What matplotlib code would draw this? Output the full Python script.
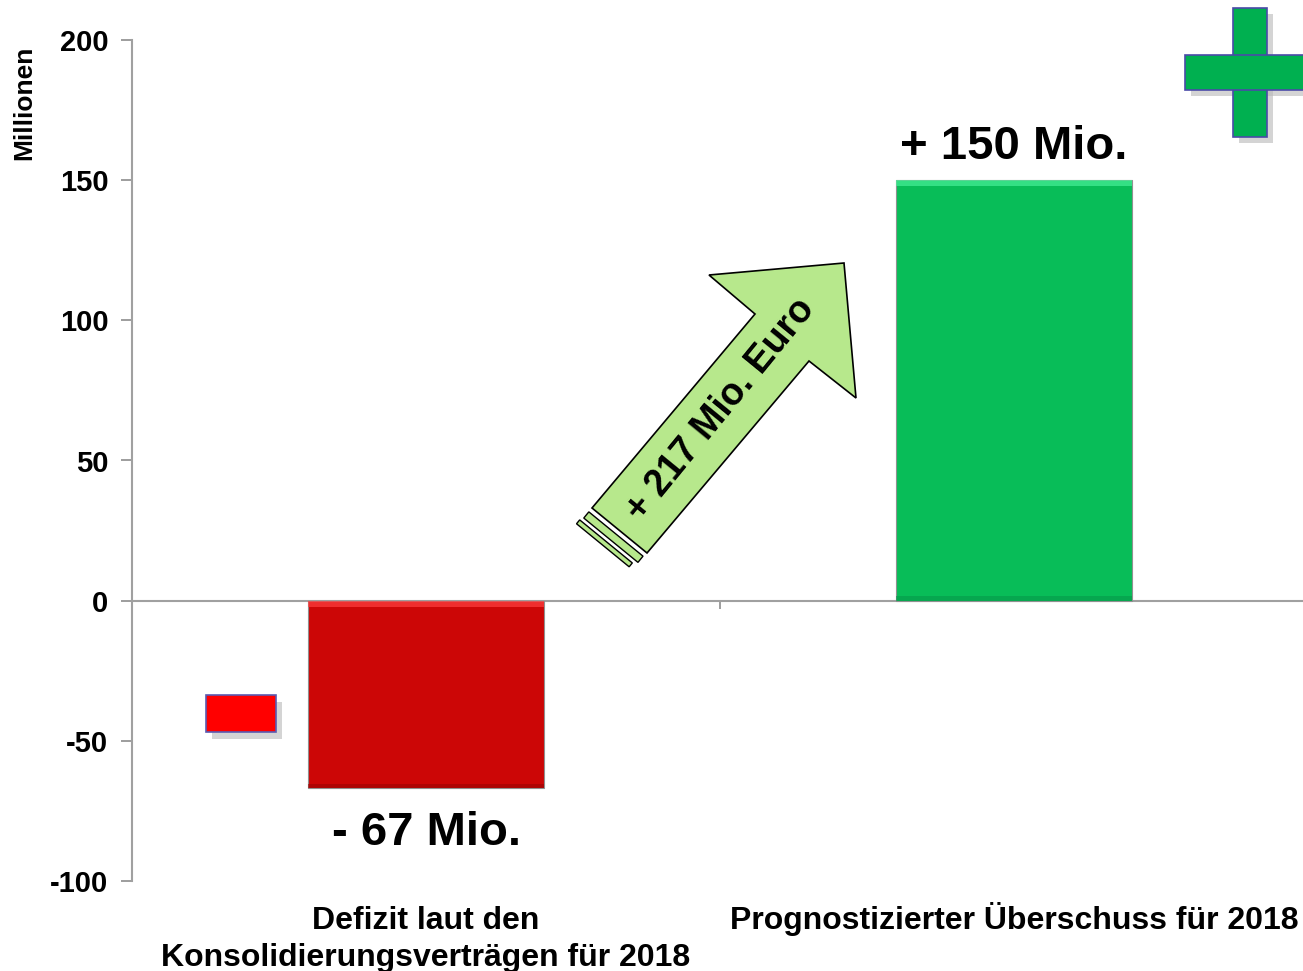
import matplotlib
matplotlib.use("Agg")
import matplotlib.pyplot as plt
from matplotlib.patches import Polygon, Rectangle
import numpy as np

plt.rcParams['font.family'] = ['Liberation Sans', 'DejaVu Sans']
plt.rcParams['font.weight'] = 'bold'
plt.rcParams['axes.unicode_minus'] = False

categories = ['Defizit laut den\nKonsolidierungsverträgen für 2018',
              'Prognostizierter Überschuss für 2018']
values = [-67, 150]
bar_labels = ['- 67 Mio.', '+ 150 Mio.']
bar_colors = ['#cc0606', '#08bd58']
arrow_text = '+ 217 Mio. Euro'
y_ticks = [-100, -50, 0, 50, 100, 150, 200]

fig = plt.figure(figsize=(13.03, 9.71), dpi=100)
ax = fig.add_axes([132 / 1303, 90 / 971, 1176 / 1303, 841 / 971])

x = np.arange(len(categories))
bars = ax.bar(x, values, width=0.4, color=bar_colors, edgecolor='#909090',
              linewidth=0.8, zorder=3)

# bevel-ish highlight / shade on the bars
for b, light, dark in zip(bars, ['#ff4040', '#48f098'],
                          ['#9a0404', '#06994a']):
    x0, w = b.get_x(), b.get_width()
    top = max(b.get_y(), b.get_y() + b.get_height())
    bot = min(b.get_y(), b.get_y() + b.get_height())
    ax.add_patch(Rectangle((x0, top - 2.2), w, 2.2, color=light, alpha=0.7,
                           lw=0, zorder=4))
    ax.add_patch(Rectangle((x0, bot), w, 1.6, color=dark, alpha=0.6,
                           lw=0, zorder=4))

ax.set_xlim(-0.5, 1.5)
ax.set_ylim(-100, 200)
ax.set_yticks(y_ticks)
ax.tick_params(axis='y', labelsize=21, length=8, width=1.2, color='#8c8c8c',
               pad=9)
for lab in ax.get_yticklabels():
    lab.set_fontweight('bold')
ax.set_xticks([0.5])
ax.set_xticklabels([''])
ax.tick_params(axis='x', length=6, width=1.2, color='#8c8c8c')

for s in ['top', 'right']:
    ax.spines[s].set_visible(False)
ax.spines['bottom'].set_position(('data', 0))
ax.spines['bottom'].set_color('#a0a0a0')
ax.spines['bottom'].set_linewidth(1.5)
ax.spines['left'].set_color('#a0a0a0')
ax.spines['left'].set_linewidth(1.5)

ax.set_ylabel('Millionen', fontsize=19, fontweight='bold')
ax.yaxis.set_label_coords(-0.081, 0.925)

# category labels under the plot, line by line on fixed baselines
for i, c in enumerate(categories):
    for j, line in enumerate(c.split('\n')):
        ax.text(i, -0.0571 - 0.044 * j, line,
                transform=ax.get_xaxis_transform(), ha='center',
                va='baseline', fontsize=23, fontweight='bold')

# value labels
ax.text(0, values[0] - 8, bar_labels[0], ha='center', va='top', fontsize=34,
        fontweight='bold')
ax.text(1, values[1] + 4, bar_labels[1], ha='center', va='bottom',
        fontsize=34, fontweight='bold')

# overlay in pixel coordinates for the decorations
ov = fig.add_axes([0, 0, 1, 1], zorder=5)
ov.set_xlim(0, 1303)
ov.set_ylim(971, 0)
ov.axis('off')
ov.patch.set_alpha(0)

arrow_pts = [(592, 508), (755, 314), (709, 275), (844, 263), (856, 398),
             (809, 361), (647, 553)]
ov.add_patch(Polygon(arrow_pts, closed=True, facecolor='#b7e88c',
                     edgecolor='black', linewidth=1.2))
d = np.array([-0.633, 0.774])
n = np.array([0.774, 0.633])
for off, th, start, length in [(5, 8, 0, 70), (17, 5, -2, 68)]:
    p0 = np.array([592, 508]) + d * off + n * start
    pts = [p0, p0 + n * length, p0 + n * length + d * th, p0 + d * th]
    ov.add_patch(Polygon(pts, closed=True, facecolor='#b7e88c',
                         edgecolor='black', linewidth=1.0))
ov.text(721, 410, arrow_text, rotation=50.7, ha='center', va='center',
        fontsize=27, fontweight='bold', rotation_mode='anchor')

# plus sign (top right) and minus sign (left)
plus_bars = [(1233, 8, 34, 129), (1185, 55, 125, 35)]
for (rx, ry, rw, rh) in plus_bars:
    ov.add_patch(Rectangle((rx + 6, ry + 6), rw, rh, color='#b8b8b8',
                           alpha=0.6, lw=0))
for (rx, ry, rw, rh) in plus_bars:
    ov.add_patch(Rectangle((rx, ry), rw, rh, facecolor='#00b050',
                           edgecolor='#4a4aa8', lw=1.2))
ov.add_patch(Rectangle((1234, 56), 32, 33, facecolor='#00b050', lw=0))
ov.add_patch(Rectangle((212, 702), 70, 37, color='#b8b8b8', alpha=0.6, lw=0))
ov.add_patch(Rectangle((206, 695), 70, 37, facecolor='#ff0000',
                       edgecolor='#5a5ab0', lw=1.2))

fig.savefig('out.png', dpi=100)
